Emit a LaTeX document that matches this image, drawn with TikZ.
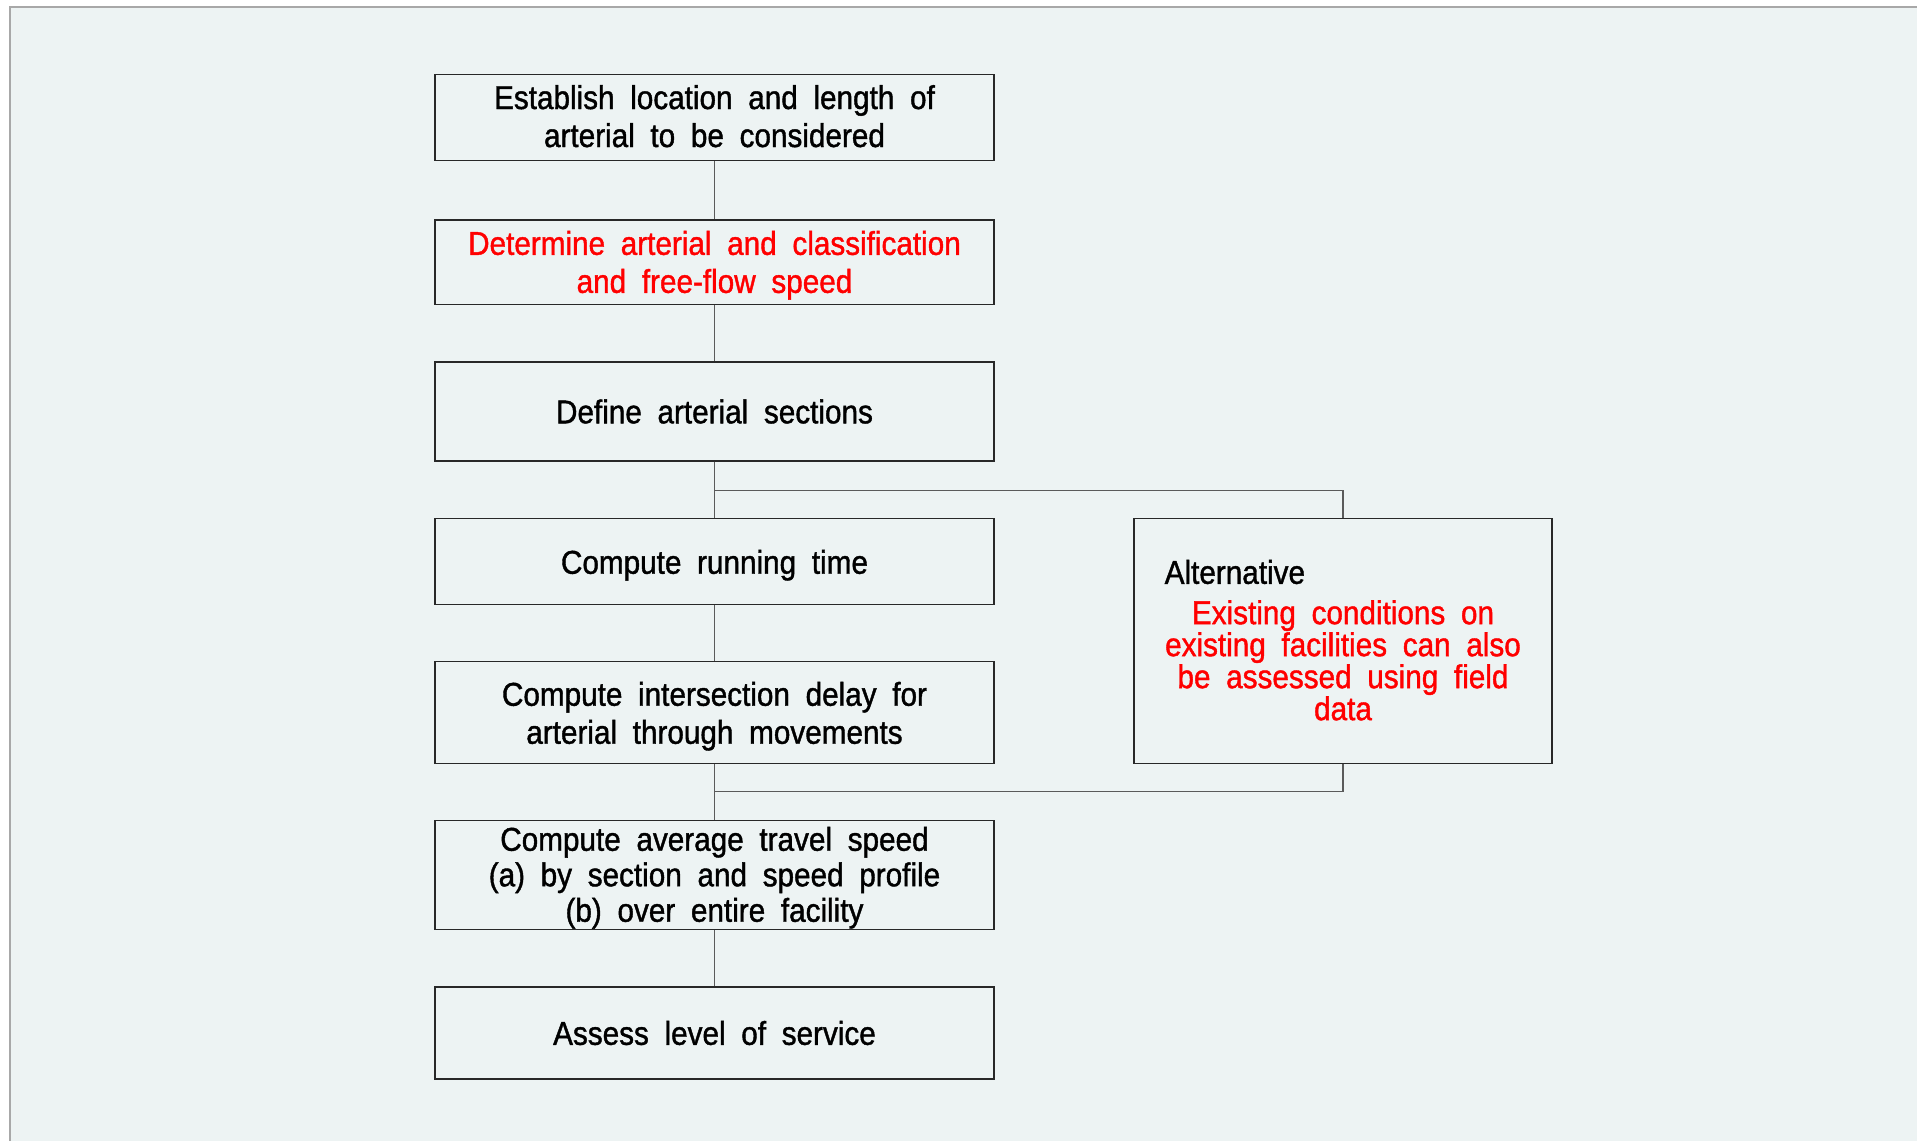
\documentclass[tikz,border=0pt]{standalone}
\usepackage{fontspec}
\setmainfont[FakeStretch=0.9,WordSpace=1.9,FakeBold=1.2]{Liberation Sans}
\definecolor{panel}{RGB}{237,243,243}
\definecolor{framegray}{RGB}{168,168,168}
\definecolor{boxline}{RGB}{40,40,40}
\definecolor{linkgray}{RGB}{90,90,90}
\definecolor{hotred}{RGB}{255,0,0}
\tikzset{
  stepbox/.style={draw=boxline, line width=1.3pt, fill=panel, minimum width=559pt, inner sep=0pt},
  steptext/.style={inner sep=0pt, align=center, font=\fontsize{33}{38}\selectfont},
  link/.style={draw=linkgray, line width=1.4pt},
}
\begin{document}
\begin{tikzpicture}[x=1pt,y=-1pt]
\useasboundingbox (0,0) rectangle (1918,1141);
\fill[white] (0,0) rectangle (1918,1141);
\fill[panel] (9.5,7) rectangle (1917,1141);
\draw[framegray, line width=2pt] (9.5,1141) -- (9.5,7) -- (1917,7);

% main chain of steps: boxes
\node[stepbox, minimum height=85.6pt] (est) at (714.5,117.4) {};
\node[stepbox, minimum height=84.6pt] (det) at (714.5,262.3) {};
\node[stepbox, minimum height=99pt] (def) at (714.5,411.5) {};
\node[stepbox, minimum height=85.7pt] (run) at (714.5,561.5) {};
\node[stepbox, minimum height=101.5pt] (idl) at (714.5,712.5) {};
\node[stepbox, minimum height=108.8pt] (avg) at (714.5,875.2) {};
\node[stepbox, minimum height=92pt] (los) at (714.5,1033) {};

% main chain of steps: texts (yshift is upward on the page)
\node[steptext] (estt) at ([yshift=1.2pt]est.center)
  {Establish location and length of\\arterial to be considered};
\node[steptext, text=hotred] (dett) at ([yshift=-3pt]det.center)
  {Determine arterial and classification\\and free-flow speed};
\node[steptext] (deft) at (def.center) {Define arterial sections};
\node[steptext] (runt) at ([yshift=-3.7pt]run.center) {Compute running time};
\node[steptext] (idlt) at ([yshift=-3.7pt]idl.center)
  {Compute intersection delay for\\arterial through movements};
\node[steptext, font=\fontsize{33}{35.5}\selectfont] (avgt) at ([yshift=-2.5pt]avg.center)
  {Compute average travel speed\\(a) by section and speed profile\\(b) over entire facility};
\node[steptext] (lost) at (los.center) {Assess level of service};

% alternative route box
\node[draw=boxline, line width=1.3pt, fill=panel, minimum width=418pt, minimum height=244.7pt]
  (alt) at (1343,641) {};
\node[anchor=west, font=\fontsize{33}{32}\selectfont, inner sep=0pt] (altt) at (1164.5,572)
  {Alternative};
\node[anchor=north, align=center, text=hotred, font=\fontsize{33}{32}\selectfont, inner sep=0pt]
  (altb) at (1343,600)
  {Existing conditions on\\existing facilities can also\\be assessed using field\\data};

% connectors
\coordinate (split) at (714.5,490.5);
\coordinate (merge) at (714.5,791.4);
\draw[link] (est.south) -- (det.north);
\draw[link] (det.south) -- (def.north);
\draw[link] (def.south) -- (run.north);
\draw[link] (split) -| (alt.north);
\draw[link] (run.south) -- (idl.north);
\draw[link] (idl.south) -- (avg.north);
\draw[link] (alt.south) |- (merge);
\draw[link] (avg.south) -- (los.north);
\end{tikzpicture}
\end{document}
